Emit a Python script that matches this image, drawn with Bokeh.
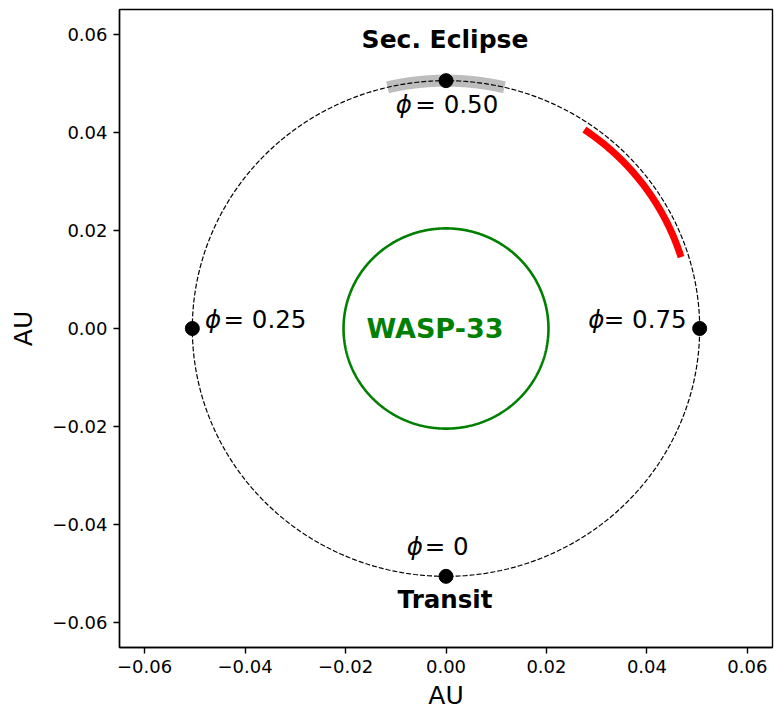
import numpy as np
from bokeh.plotting import figure
from bokeh.models import FixedTicker, Range1d
from bokeh.core.properties import value
from bokeh.embed import file_html
from bokeh.resources import INLINE

# Orbit geometry of WASP-33 b (AU)
semi_major_axis = 0.0505
star_radius = 0.0204
observed_radius = 0.049

# Orbital phases marked on the orbit
marker_phases = [0.0, 0.25, 0.5, 0.75]
marker_values = ["0", "0.25", "0.50", "0.75"]

# Phase coverage: secondary eclipse window and observed window
eclipse_phase = [0.463, 0.537]
observed_phase = [0.595, 0.702]

tick_values = [-0.06, -0.04, -0.02, 0.0, 0.02, 0.04, 0.06]
tick_labels = ["−0.06", "−0.04", "−0.02", "0.00", "0.02", "0.04", "0.06"]

FONT = "DejaVu Sans"


def orbit_xy(phase, r):
    """Phase 0 (transit) at the bottom, 0.25 left, 0.5 top, 0.75 right."""
    ang = 2 * np.pi * np.asarray(phase, dtype=float)
    return -r * np.sin(ang), -r * np.cos(ang)


def arc_phases(start, stop, n=200):
    return np.linspace(start, stop, n)


p = figure(
    width=774, height=713,
    x_range=Range1d(-0.065, 0.065), y_range=Range1d(-0.065, 0.065),
    output_backend="svg", toolbar_location=None,
    min_border_left=119, min_border_right=2,
    min_border_top=9, min_border_bottom=66,
)
p.grid.visible = False
p.outline_line_color = "black"
p.outline_line_width = 1.4
p.background_fill_color = "white"
p.border_fill_color = "white"

for ax in (p.xaxis[0], p.yaxis[0]):
    ax.ticker = FixedTicker(ticks=tick_values)
    ax.major_label_overrides = dict(zip(tick_values, tick_labels))
    ax.major_label_text_font = FONT
    ax.major_label_text_font_size = "18px"
    ax.major_label_text_color = "black"
    ax.axis_label = "AU"
    ax.axis_label_text_font = FONT
    ax.axis_label_text_font_size = "25px"
    ax.axis_label_text_font_style = "normal"
    ax.axis_label_text_color = "black"
    ax.major_tick_out = 6
    ax.major_tick_in = 0
    ax.major_tick_line_width = 1.4
    ax.minor_tick_line_color = None
    ax.axis_line_width = 1.4
    ax.major_label_standoff = 6
p.yaxis[0].axis_label_standoff = 11
p.xaxis[0].axis_label_standoff = 5

# secondary eclipse window (grey band on the orbit)
ex, ey = orbit_xy(arc_phases(*eclipse_phase), semi_major_axis)
p.line(ex, ey, line_width=12, line_color="#bdbdbd")

# full orbit
ox, oy = orbit_xy(arc_phases(0, 1, 721), semi_major_axis)
p.line(ox, oy, line_width=1.2, line_color="black", line_dash="5 2")

# observed phase range
rx, ry = orbit_xy(arc_phases(*observed_phase), observed_radius)
p.line(rx, ry, line_width=7, line_color="red")

# host star
sx, sy = orbit_xy(arc_phases(0, 1, 721), star_radius)
p.line(sx, sy, line_width=2.6, line_color="green")

# phase markers
mx, my = orbit_xy(marker_phases, semi_major_axis)
p.scatter(mx, my, size=14, fill_color="black", line_color="black")

# phase labels: italic phi symbol followed by "= value"
phi_left = [-0.0078, -0.0480, -0.0100, 0.0283]
value_right = [0.0045, -0.0278, 0.0104, 0.0479]
label_y = [-0.0444, 0.0019, 0.0457, 0.0019]
p.text(x=phi_left, y=label_y, text=["ϕ"] * len(marker_phases),
       text_font=value(FONT), text_font_style="italic", text_font_size="24.5px",
       text_color="black", text_align="left", text_baseline="alphabetic")
p.text(x=value_right, y=label_y, text=["= " + v for v in marker_values],
       text_font=value(FONT), text_font_size="24.5px",
       text_color="black", text_align="right", text_baseline="alphabetic")

bold_kw = dict(text_font=value(FONT), text_font_style="bold", text_baseline="alphabetic",
               text_align="center")
p.text(x=[-0.0002], y=[0.0589], text=["Sec. Eclipse"], text_font_size="25px",
       text_color="black", **bold_kw)
p.text(x=[-0.0002], y=[-0.0552], text=["Transit"], text_font_size="24.5px",
       text_color="black", **bold_kw)
p.text(x=[-0.0022], y=[-0.0001], text=["WASP-33"], text_font_size="27px",
       text_color="green", **bold_kw)

open("out.html", "w").write(file_html(p, INLINE))
